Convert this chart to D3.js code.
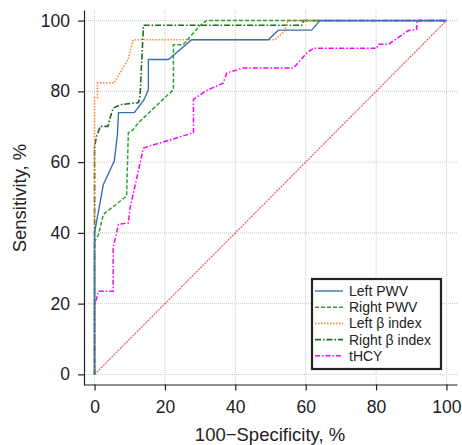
<!DOCTYPE html>
<html><head><meta charset="utf-8">
<script src="https://cdn.jsdelivr.net/npm/d3@7"></script>
<style>
body{margin:0;background:#fff;}
text{font-family:"Liberation Sans",Arial,Helvetica,sans-serif;fill:#222;}
</style></head>
<body><svg id="chart" width="462" height="445"></svg>
<script>
const ticks = [0, 20, 40, 60, 80, 100];
const seriesNames = ["Left PWV", "Right PWV", "Left \u03b2 index", "Right \u03b2 index", "tHCY"];
const leftPWV = [[0,0],[0,40],[2.5,53.7],[5.6,60.3],[6.5,67.8],[6.8,74],[11.3,74],[14.1,77.7],[15.3,80.5],[15.3,89],[21,89],[27.6,94.6],[49.4,94.6],[52.2,97.3],[61.7,97.3],[64,100],[100,100]];
const rightPWV = [[0,0],[0,37.5],[1.1,39.5],[2.5,45.2],[9.1,50.4],[9.6,68.3],[11,69.2],[12.4,71.1],[13.4,72],[22.4,80.5],[22.4,93.2],[25.2,93.2],[30,98.7],[31.9,100],[100,100]];
const leftBeta = [[0,0],[0,78.2],[0.8,78.2],[0.8,82.4],[5.6,82.4],[9.5,89],[11,94.6],[51.3,94.6],[54,97],[55,100],[100,100]];
const rightBeta = [[0,0],[0,64.5],[0.6,67.3],[1.6,70.1],[3.8,70.1],[4.4,72.5],[5.3,75.3],[7.7,76.3],[12.4,76.8],[12.9,78.2],[13.9,98.7],[58.9,98.7],[59.4,100],[100,100]];
const tHCY = [[0,0],[0,19.3],[1.1,23.5],[5.3,23.5],[5.3,35.8],[5.8,38.1],[6.8,42.4],[9.6,42.8],[10.1,47.1],[13.9,64],[28.1,68.3],[28.1,77.7],[31.4,80],[36.6,82.4],[37.6,85.2],[42.3,86.6],[56.5,86.6],[60.3,90.8],[62.2,92.2],[80.2,92.2],[80.6,93.3],[83.5,93.3],[89.2,97.2],[91.5,97.5],[91.7,100],[100,100]];
const reference = [[0,0],[100,100]];

const seriesData = [leftPWV, rightPWV, leftBeta, rightBeta, tHCY];
const colors = ["#3a72b0", "#2ca42c", "#ff8a3a", "#1c6a1c", "#ff00ff"];
const dashes = [null, "4,2", "1.5,1.5", "6,2,1.5,2", "5,2,1.5,2"];
const widths = [1.4, 1.5, 1.6, 1.6, 1.5];

const svg = d3.select("#chart");
const x = d3.scaleLinear().domain([-3,103]).range([84,457]);
const y = d3.scaleLinear().domain([-3,103]).range([385,10]);

// grid
const grid = svg.append("g");
grid.selectAll(".gx").data(ticks).enter().append("line")
  .attr("x1", d=>x(d)).attr("x2", d=>x(d)).attr("y1", y(-3)).attr("y2", y(103))
  .attr("stroke", "#c8c8c8").attr("stroke-width", 1).attr("stroke-dasharray", "1,1");
grid.selectAll(".gy").data(ticks).enter().append("line")
  .attr("y1", d=>y(d)).attr("y2", d=>y(d)).attr("x1", x(-3)).attr("x2", x(103))
  .attr("stroke", "#c8c8c8").attr("stroke-width", 1).attr("stroke-dasharray", "1,1");

// axes
const xAxis = svg.append("g").attr("transform", "translate(0,384.5)")
  .call(d3.axisBottom(x).tickValues(ticks).tickSize(6).tickSizeOuter(0).tickPadding(10));
const yAxis = svg.append("g").attr("transform", "translate(84,0)")
  .call(d3.axisLeft(y).tickValues(ticks).tickSize(6).tickSizeOuter(0).tickPadding(8));
[xAxis, yAxis].forEach(a => {
  a.selectAll("path").attr("stroke", "#222").attr("stroke-width", 1.2);
  a.selectAll("line").attr("stroke", "#222").attr("stroke-width", 1.2);
  a.selectAll("text").style("font-size", "17.5px").attr("fill", "#222");
});

svg.append("text").attr("x", 270).attr("y", 441).attr("text-anchor", "middle")
  .style("font-size", "18.5px").text("100\u2212Specificity, %");
svg.append("text").attr("transform", "translate(26,198) rotate(-90)").attr("text-anchor", "middle")
  .style("font-size", "18.5px").text("Sensitivity, %");

// reference diagonal
const line = d3.line().x(d=>x(d[0])).y(d=>y(d[1]));
svg.append("path").datum(reference).attr("d", line).attr("fill", "none")
  .attr("stroke", "#cc6a5c").attr("stroke-width", 1.2).attr("stroke-dasharray", "2,1");

// series (draw in reverse so Left PWV on top)
for (let i = seriesData.length - 1; i >= 0; i--) {
  svg.append("path").datum(seriesData[i]).attr("d", line).attr("fill", "none")
    .attr("stroke", colors[i]).attr("stroke-width", widths[i])
    .attr("stroke-dasharray", dashes[i]);
}

// legend
const lg = svg.append("g");
lg.append("rect").attr("x", 312).attr("y", 279).attr("width", 129).attr("height", 90)
  .attr("fill", "#fff").attr("stroke", "#222").attr("stroke-width", 2.2);
seriesNames.forEach((n, i) => {
  const yy = 291 + i * 16.2;
  lg.append("line").attr("x1", 315).attr("x2", 343).attr("y1", yy).attr("y2", yy)
    .attr("stroke", colors[i]).attr("stroke-width", widths[i]).attr("stroke-dasharray", dashes[i]);
  lg.append("text").attr("x", 349).attr("y", yy + 5).style("font-size", "14px").text(n);
});
</script></body></html>
